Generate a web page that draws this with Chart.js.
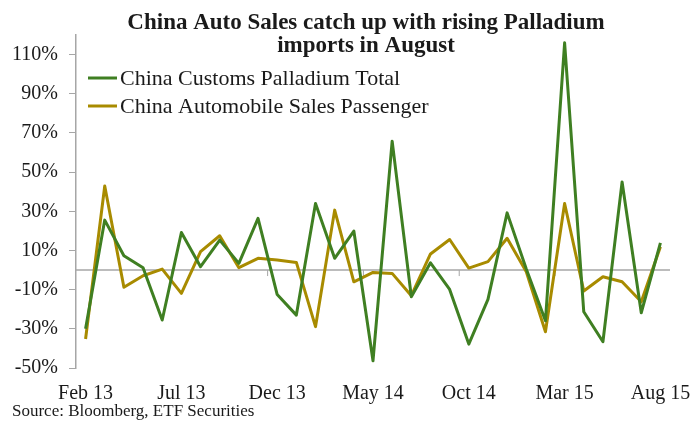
<!DOCTYPE html>
<html>
<head>
<meta charset="utf-8">
<script src="https://cdn.jsdelivr.net/npm/chart.js@4"></script>
<style>
  html, body { margin: 0; padding: 0; background: #fff; }
  #wrap { width: 690px; height: 423px; }
</style>
</head>
<body>
<div id="wrap"><canvas id="chart" width="690" height="423"></canvas></div>
<script>
// monthly, Feb 13 .. Aug 15
const months = ['Feb 13', 'Mar 13', 'Apr 13', 'May 13', 'Jun 13', 'Jul 13', 'Aug 13', 'Sep 13', 'Oct 13', 'Nov 13',
    'Dec 13', 'Jan 14', 'Feb 14', 'Mar 14', 'Apr 14', 'May 14', 'Jun 14', 'Jul 14', 'Aug 14', 'Sep 14',
    'Oct 14', 'Nov 14', 'Dec 14', 'Jan 15', 'Feb 15', 'Mar 15', 'Apr 15', 'May 15', 'Jun 15', 'Jul 15', 'Aug 15'];

const palladiumImports = [-30, 25.5, 7.3, 1.2, -25.5, 19.2, 1.7, 15.3, 3.4, 26.4,
    -12.5, -23, 34, 6, 19.9, -46.3, 65.8, -13.6, 3.7, -9.9,
    -37.8, -15, 29.2, 0.5, -25.9, 116, -21.3, -36.6, 45, -21.8, 13.9];

const autoSales = [-35.2, 42.9, -8.8, -2.9, 0.5, -11.9, 9.4, 17.5, 1.2, 6,
    5.1, 3.9, -28.9, 30.6, -6, -1.2, -1.7, -13.1, 8.2, 15.6,
    1, 4.3, 16.2, -0.9, -31.5, 34, -10.7, -3.4, -6, -16.2, 11.9];

const yTicks = [-50, -30, -10, 10, 30, 50, 70, 90, 110];

const serif = "'Liberation Serif', 'DejaVu Serif', serif";
const ink = '#1a1a1a';
const axisGrey = '#a6a6a6';

// title, legend, source and the zero axis are drawn by hand
const extras = {
    id: 'extras',
    beforeDatasetsDraw(chart) {
        const { ctx, chartArea, scales: { x, y } } = chart;
        const y0 = y.getPixelForValue(0);
        ctx.save();
        ctx.strokeStyle = axisGrey;
        ctx.lineWidth = 1.5;
        ctx.beginPath();
        ctx.moveTo(chartArea.left, y0);
        ctx.lineTo(chartArea.right, y0);
        ctx.stroke();
        // small tick marks between categories, every 5 months
        const step = x.getPixelForValue(1) - x.getPixelForValue(0);
        ctx.lineWidth = 1;
        for (let i = 4; i < months.length - 1; i += 5) {
            const px = x.getPixelForValue(i) + step / 2;
            ctx.beginPath();
            ctx.moveTo(px, y0);
            ctx.lineTo(px, y0 + 6);
            ctx.stroke();
        }
        ctx.restore();
    },
    afterDraw(chart) {
        const { ctx } = chart;
        ctx.save();
        ctx.fillStyle = ink;
        ctx.textAlign = 'center';
        ctx.textBaseline = 'middle';
        ctx.font = 'bold 23px ' + serif;
        ctx.fillText('China Auto Sales catch up with rising Palladium', 366, 23);
        ctx.fillText('imports in August', 366, 46);

        ctx.textAlign = 'left';
        ctx.font = '22px ' + serif;
        chart.data.datasets.forEach((ds, i) => {
            const ly = 78 + i * 28;
            ctx.strokeStyle = ds.borderColor;
            ctx.lineWidth = 3;
            ctx.beginPath();
            ctx.moveTo(88, ly);
            ctx.lineTo(117, ly);
            ctx.stroke();
            ctx.fillText(ds.label, 120, ly + 1);
        });

        ctx.font = '17px ' + serif;
        ctx.fillText('Source: Bloomberg, ETF Securities', 12, 412);
        ctx.restore();
    }
};

new Chart(document.getElementById('chart'), {
    type: 'line',
    data: {
        labels: months,
        datasets: [{
            label: 'China Customs Palladium Total',
            data: palladiumImports,
            borderColor: '#3f7f22',
            borderWidth: 3,
            borderJoinStyle: 'round',
            pointRadius: 0,
            tension: 0
        }, {
            label: 'China Automobile Sales Passenger',
            data: autoSales,
            borderColor: '#a88b00',
            borderWidth: 3,
            borderJoinStyle: 'round',
            pointRadius: 0,
            tension: 0
        }]
    },
    options: {
        responsive: false,
        animation: false,
        layout: { padding: { top: 35, right: 20, left: 0, bottom: 0 } },
        plugins: {
            legend: { display: false },
            title: { display: false },
            tooltip: { enabled: false }
        },
        scales: {
            x: {
                offset: true,
                grid: { display: false },
                border: { display: false },
                ticks: {
                    autoSkip: false,
                    maxRotation: 0,
                    padding: 6,
                    color: ink,
                    font: { family: serif, size: 20 },
                    callback: (v, i) => (i % 5 === 0 ? months[i] : '')
                },
                afterFit(scale) {
                    scale.height = 55;
                    scale.paddingLeft = 0;
                    scale.paddingRight = 0;
                }
            },
            y: {
                min: -50,
                max: 120,
                afterBuildTicks(scale) {
                    scale.ticks = yTicks.map(v => ({ value: v }));
                },
                grid: {
                    drawOnChartArea: false,
                    tickLength: 7,
                    color: axisGrey
                },
                border: { display: true, color: axisGrey, width: 1.5 },
                ticks: {
                    padding: 11,
                    color: ink,
                    font: { family: serif, size: 20 },
                    callback: v => v + '%'
                },
                afterFit(scale) {
                    scale.width = 76;
                }
            }
        }
    },
    plugins: [extras]
});
</script>
</body>
</html>
